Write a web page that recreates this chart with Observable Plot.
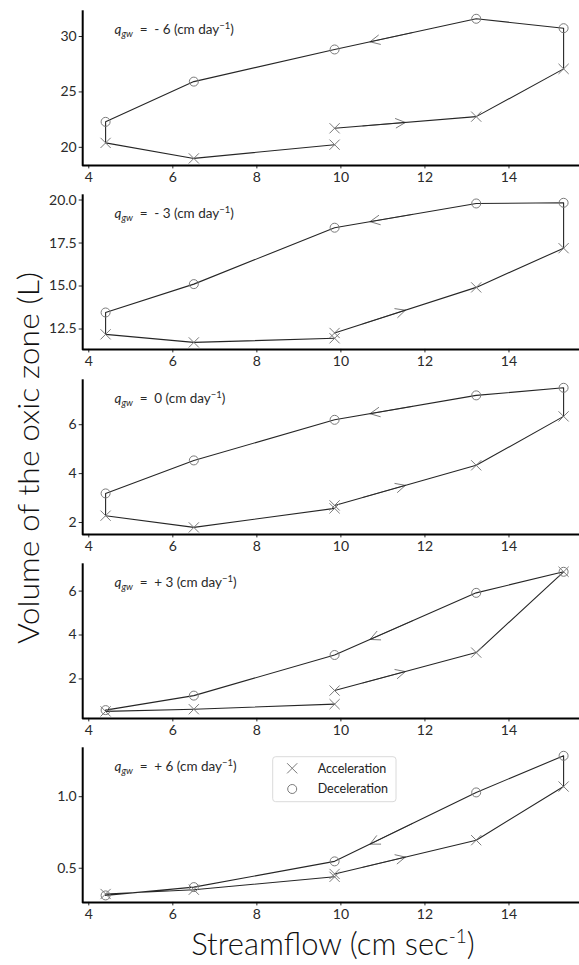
<!DOCTYPE html>
<html>
<head>
<meta charset="utf-8">
<script src="https://cdn.jsdelivr.net/npm/d3@7"></script>
<script src="https://cdn.jsdelivr.net/npm/@observablehq/plot@0.6"></script>
<style>
  html, body { margin: 0; padding: 0; background: #fff; }
  #wrap { position: relative; width: 579px; height: 965px; overflow: hidden; font-family: Lato, "Open Sans", sans-serif; }
  #wrap > svg { position: absolute; left: 0; }
</style>
</head>
<body>
<div id="wrap"></div>
<script>
// ---- data: one hydrograph cycle (start at mean flow, rise, fall, rise back) ----
const flowCycle  = [9.85, 13.22, 15.3, 15.3, 13.22, 9.85, 6.5, 4.4, 4.4, 6.5, 9.85];
const phaseCycle = ["Acceleration", "Acceleration", "Acceleration",
                    "Deceleration", "Deceleration", "Deceleration", "Deceleration", "Deceleration",
                    "Acceleration", "Acceleration", "Acceleration"];

// oxic-zone volume (L) along the cycle, one array per groundwater flux
const volQgwMinus6 = [21.72, 22.77, 27.08, 30.75, 31.6, 28.83, 25.93, 22.3, 20.4, 19.0, 20.24];
const volQgwMinus3 = [12.27, 14.92, 17.2, 19.84, 19.8, 18.39, 15.11, 13.46, 12.19, 11.72, 11.96];
const volQgwZero   = [2.70, 4.34, 6.34, 7.51, 7.20, 6.20, 4.54, 3.19, 2.28, 1.80, 2.58];
const volQgwPlus3  = [1.47, 3.20, 6.88, 6.88, 5.92, 3.09, 1.24, 0.58, 0.52, 0.62, 0.85];
const volQgwPlus6  = [0.46, 0.696, 1.071, 1.286, 1.03, 0.548, 0.368, 0.31, 0.32, 0.35, 0.44];

const qgwLabels = ["- 6", "- 3", "0", "+ 3", "+ 6"];
const yTickValues = [[20, 25, 30], [12.5, 15, 17.5, 20], [2, 4, 6], [2, 4, 6], [0.5, 1.0]];
const yTickFormats = ["d", ".1f", "d", "d", ".1f"];
const xTickValues = [4, 6, 8, 10, 12, 14];
const legendLabels = ["Acceleration", "Deceleration"];

const series = [volQgwMinus6, volQgwMinus3, volQgwZero, volQgwPlus3, volQgwPlus6];

// ---- layout ----
const W = 579;
const STEP = 184.3, FRAME_TOP = 11.3, FRAME_H = 153.6, SVG_H = 186;
const LEFT = 82.2, RIGHT_END = 586;
const LINE = "#262626", MARK = "#7a7a7a";
const FONT = "Lato, 'Open Sans', sans-serif";

function pad(ext) { const m = (ext[1] - ext[0]) * 0.05; return [ext[0] - m, ext[1] + m]; }
const xDom = pad(d3.extent(flowCycle));

function along(data, i, j, t0, t1) {
  const a = data[i], b = data[j];
  return {
    x1: a.flow + (b.flow - a.flow) * t0, y1: a.vol + (b.vol - a.vol) * t0,
    x2: a.flow + (b.flow - a.flow) * t1, y2: a.vol + (b.vol - a.vol) * t1
  };
}

const wrap = document.getElementById("wrap");

series.forEach((vals, i) => {
  const data = flowCycle.map((f, j) => ({flow: f, vol: vals[j], phase: phaseCycle[j]}));
  const yDom = pad(d3.extent(vals));
  const arrows = [along(data, 0, 1, 0.2, 0.5), along(data, 4, 5, 0.45, 0.75)];
  const svg = Plot.plot({
    width: W, height: SVG_H,
    marginLeft: LEFT, marginRight: 0, marginTop: FRAME_TOP, marginBottom: SVG_H - FRAME_TOP - FRAME_H,
    style: {background: "transparent", overflow: "visible", fontFamily: FONT, fontSize: "14px", color: "#2a2a2a"},
    x: {domain: xDom, range: [LEFT, RIGHT_END], ticks: xTickValues, tickFormat: d3.format("d"), tickSize: 3.5, tickPadding: 3, label: null},
    y: {domain: yDom, ticks: yTickValues[i], tickFormat: d3.format(yTickFormats[i]), tickSize: 3.5, tickPadding: 2.5, label: null},
    marks: [
      Plot.arrow(arrows, {x1: "x1", y1: "y1", x2: "x2", y2: "y2", stroke: MARK, strokeWidth: 1, headLength: 16, headAngle: 52}),
      Plot.line(data, {x: "flow", y: "vol", stroke: LINE, strokeWidth: 1.1}),
      Plot.dot(data.filter(d => d.phase === "Acceleration"), {x: "flow", y: "vol", symbol: "times", r: 4.7, stroke: MARK, strokeWidth: 1}),
      Plot.dot(data.filter(d => d.phase === "Deceleration"), {x: "flow", y: "vol", symbol: "circle", r: 4.5, stroke: MARK, fill: "none", strokeWidth: 1}),
      Plot.ruleX([xDom[0]], {stroke: "#000", strokeWidth: 2, strokeLinecap: "square"}),
      Plot.ruleY([yDom[0]], {stroke: "#000", strokeWidth: 2}),
      Plot.text([qgwLabels[i]], {frameAnchor: "top-left", dx: 31.8, dy: 18, text: d => d, fontSize: 13.5, textAnchor: "start", lineAnchor: "middle", fill: "#2a2a2a"})
    ]
  });
  svg.style.top = (STEP * i) + "px";
  // rich text: q_gw = ... (cm day^-1)
  d3.select(svg).selectAll('g[aria-label="text"] text').each(function() {
    const t = d3.select(this);
    const label = t.text();
    t.text(null);
    t.append("tspan").attr("font-style", "italic").text("q");
    t.append("tspan").attr("font-style", "italic").attr("font-size", 9.5).attr("dy", 3).text("gw");
    t.append("tspan").attr("dy", -3).text("\u2002=\u2002" + label + " (cm day");
    t.append("tspan").attr("font-size", 9.5).attr("dy", -5).text("\u22121");
    t.append("tspan").attr("dy", 5).text(")");
  });
  wrap.appendChild(svg);
});

// ---- overlay: axis titles and legend ----
const ov = d3.select(wrap).append("svg")
  .attr("width", W).attr("height", 965)
  .style("top", "0px")
  .attr("font-family", FONT);

ov.append("text")
  .attr("transform", "translate(39,458) rotate(-90)")
  .attr("text-anchor", "middle")
  .attr("font-size", 29.5).attr("font-weight", 300).attr("fill", "#111")
  .attr("textLength", 372).attr("lengthAdjust", "spacingAndGlyphs")
  .text("Volume of the oxic zone (L)");

const xl = ov.append("text")
  .attr("x", 333).attr("y", 955)
  .attr("text-anchor", "middle")
  .attr("font-size", 31).attr("font-weight", 300).attr("fill", "#111");
xl.append("tspan").text("Streamflow (cm sec");
xl.append("tspan").attr("font-size", 19).attr("dy", -12).text("-1");
xl.append("tspan").attr("dy", 12).text(")");

const lg = ov.append("g").attr("transform", "translate(272.7,756.7)");
lg.append("rect").attr("width", 123.3).attr("height", 45).attr("rx", 3)
  .attr("fill", "#fff").attr("fill-opacity", 0.8).attr("stroke", "#dadada").attr("stroke-width", 1);
const legSymbols = [d3.symbolTimes, d3.symbolCircle];
const legSizes = [Math.PI * 4.7 * 4.7, Math.PI * 4.5 * 4.5];
legendLabels.forEach((lab, k) => {
  lg.append("path")
    .attr("transform", `translate(19.5,${11.6 + k * 20.7})`)
    .attr("d", d3.symbol(legSymbols[k], legSizes[k])())
    .attr("fill", "none").attr("stroke", MARK).attr("stroke-width", 1);
  lg.append("text")
    .attr("x", 45).attr("y", 16 + k * 20.7)
    .attr("font-size", 12.5).attr("fill", "#222")
    .text(lab);
});
</script>
</body>
</html>
